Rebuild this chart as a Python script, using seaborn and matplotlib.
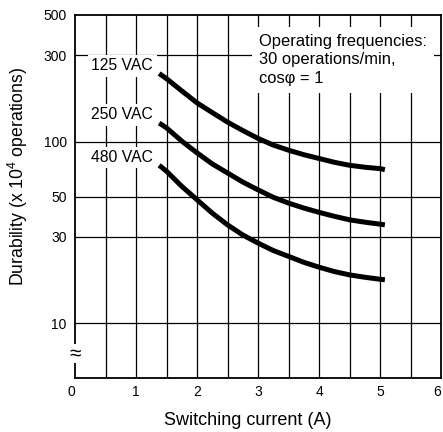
import matplotlib
matplotlib.use('Agg')
import matplotlib.pyplot as plt
import seaborn as sns
import pandas as pd
import numpy as np

# Datos
current = [1.38, 1.5, 1.75, 2.0, 2.25, 2.5, 2.75, 3.0, 3.25, 3.5,
           3.75, 4.0, 4.25, 4.5, 4.75, 5.0, 5.08]
dur_125 = [238, 223, 191, 164, 145, 128.5, 115.5, 104.5, 96, 90,
           85, 81, 77.2, 74.3, 72.5, 71.2, 70.3]
dur_250 = [127, 119.5, 101, 87, 75.6, 67.4, 60.1, 54.4, 49.5, 46,
           43.2, 40.9, 38.9, 37.2, 36.1, 35.2, 34.9]
dur_480 = [74.3, 68.9, 56.9, 48, 40.5, 34.9, 30.7, 27.7, 25.2, 23.4,
           21.7, 20.4, 19.3, 18.5, 17.95, 17.5, 17.4]
voltages = ['125 VAC', '250 VAC', '480 VAC']
y_ticks = [5, 10, 30, 50, 100, 300, 500]
y_tick_labels = ['', '10', '30', '50', '100', '300', '500']
x_ticks = [0, 1, 2, 3, 4, 5, 6]

data = pd.DataFrame({
    'current': current * 3,
    'durability': dur_125 + dur_250 + dur_480,
    'voltage': [v for v in voltages for _ in current],
})

sns.set_style('white')
plt.rcParams['font.family'] = ['Liberation Sans', 'DejaVu Sans']
plt.rcParams['mathtext.default'] = 'regular'
plt.rcParams['text.color'] = 'black'
plt.rcParams['axes.labelcolor'] = 'black'
plt.rcParams['xtick.color'] = 'black'
plt.rcParams['ytick.color'] = 'black'

fig = plt.figure(figsize=(4.43, 4.32), dpi=100)
ax = fig.add_axes([75 / 443, 1 - 378 / 432, 366 / 443, 363 / 432])

# Rejilla
for xv in np.arange(0.5, 6, 0.5):
    ax.axvline(xv, color='black', lw=0.9, zorder=1)
for yv in [10, 30, 50, 100, 300]:
    ax.axhline(yv, color='black', lw=0.9, zorder=1)

sns.lineplot(data=data, x='current', y='durability', hue='voltage',
             palette=['black'] * 3, linewidth=3.6, legend=False, ax=ax,
             zorder=3)
for line in ax.get_lines():
    line.set_solid_capstyle('butt')
    line.set_solid_joinstyle('round')

ax.set_yscale('log')
ax.set_xlim(0, 6)
ax.set_ylim(5, 500)
ax.set_xticks(x_ticks)
ax.set_xticklabels([str(x) for x in x_ticks])
ax.set_yticks(y_ticks)
ax.set_yticklabels(y_tick_labels)
ax.yaxis.set_minor_locator(matplotlib.ticker.NullLocator())
ax.tick_params(axis='x', length=0, pad=5, labelsize=10, colors='black')
ax.tick_params(axis='y', length=4, width=1, direction='out', pad=2,
               labelsize=10, colors='black')
ax.get_xticklabels()[0].set_horizontalalignment('right')
ax.get_xticklabels()[-1].set_horizontalalignment('right')

for s in ax.spines.values():
    s.set_color('black')
    s.set_linewidth(1.3)

ax.set_xlabel('Switching current (A)', fontsize=13, color='black')
ax.xaxis.set_label_coords(0.471, -0.095)
ax.set_ylabel('Durability (x 10$^{4}$ operations)', fontsize=12.7, color='black')
ax.yaxis.set_label_coords(-0.124, 0.556)

# Etiquetas de las curvas
label_y = [262, 141, 82]
for v, yv in zip(voltages, label_y):
    ax.text(1.28, yv, v, ha='right', va='center', fontsize=11.3, zorder=4,
            color='black',
            bbox=dict(facecolor='white', edgecolor='none', pad=2.5))

ax.text(0.503, 0.948, 'Operating frequencies:\n30 operations/min,\ncos\u03c6 = 1',
        transform=ax.transAxes, ha='left', va='top', fontsize=11.9,
        linespacing=1.3, zorder=4, color='black',
        bbox=dict(facecolor='white', edgecolor='none', pad=5))

# Simbolo de corte del eje
ax.text(0, 6.8, '\u2248', transform=ax.get_yaxis_transform(), ha='center',
        va='center', fontsize=15, zorder=5, clip_on=False, color='black',
        bbox=dict(facecolor='white', edgecolor='none', pad=0))

plt.savefig('out.png', dpi=100)
plt.close()
